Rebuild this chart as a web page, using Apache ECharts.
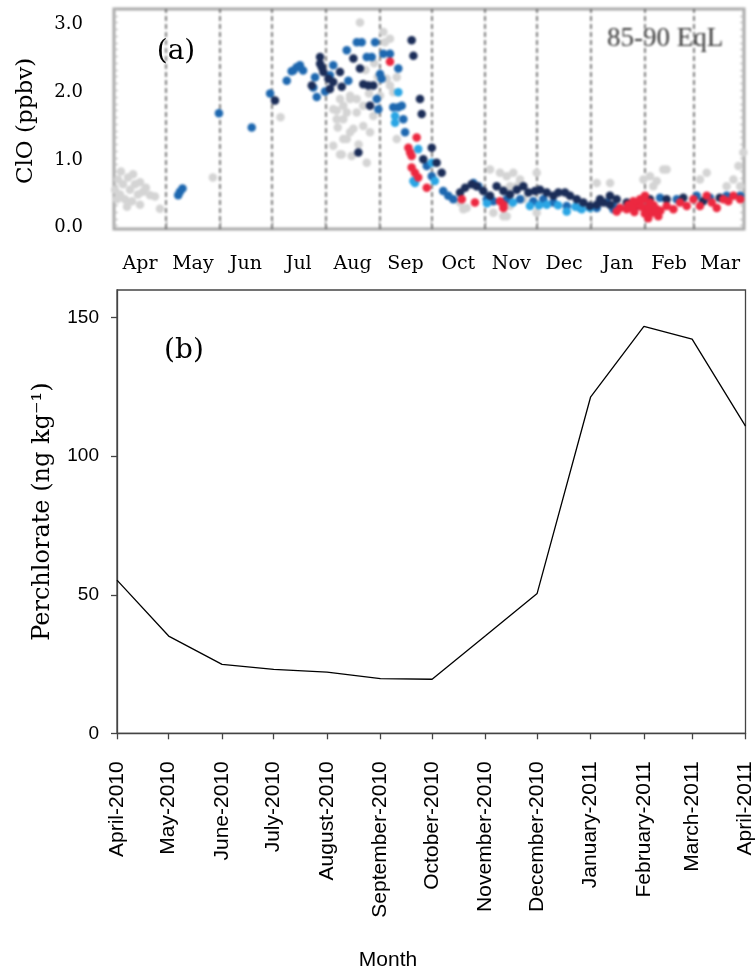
<!DOCTYPE html>
<html>
<head>
<meta charset="utf-8">
<script src="https://cdn.jsdelivr.net/npm/echarts@6/dist/echarts.min.js"></script>
<style>
  html, body { margin: 0; padding: 0; background: #fff; }
  #wrap { position: relative; width: 756px; height: 971px; overflow: hidden; }
  #clo { position: absolute; left: 0; top: 0; width: 756px; height: 245px; filter: blur(0.9px); }
  #main { position: absolute; left: 0; top: 0; width: 756px; height: 971px; }
</style>
</head>
<body>
<div id="wrap"><div id="clo"></div><div id="main"></div></div>
<script>
// ClO observations, 85-90 EqL, season starting 1 April 2010.
// Each point: [days since 1 April 2010, ClO in ppbv]
const cloGray = [
  [0.6,0.53],[2.3,0.68],[3.5,0.46],[5.2,0.61],[6.3,0.39],[8.1,0.71],[9.2,0.53],[10.4,0.36],
  [12.1,0.61],[13.8,0.46],[15,0.64],[16.7,0.5],[18.4,0.56],[20.8,0.45],[1.7,0.39],[4,0.8],
  [7.5,0.28],[11,0.76],[15,0.31],[23.6,0.43],[26.5,0.25],[57,0.71],[96,1.6],
  [141.8,3.0],[126.4,1.72],[128.4,1.57],[134.2,1.67],[136.1,1.38],[126.4,1.18],[132.2,1.28],
  [145.7,0.93],[131.3,1.05],[137,1.03],[128.4,1.7],[132.2,1.77],[136.1,1.87],[139.9,1.67],
  [143.7,1.47],[138,1.43],[147.6,1.38],[134.2,1.28],[139.9,1.87],[143.7,1.77],[149.5,1.62],
  [153.4,1.92],[155.3,2.86],[156.2,2.71],[159.1,2.76],[157.2,2.17],[159.1,2.07],[163,2.19],
  [161,1.97],[130.3,1.87],[132.2,1.57],[163,1.28],[145,2.3],[150,2.4],[152,2.2],[147,1.95],
  [141,1.2],[129,1.45],[136.1,1.92],[130.3,1.05],
  [199.5,0.34],[203.3,0.26],[201.4,0.24],[216.8,0.83],[222.5,0.78],[226.4,0.73],[230.2,0.78],
  [234.1,0.68],[228.3,0.58],[218.7,0.19],[226.4,0.14],[243.7,0.78],[278.3,0.63],[286,0.63],
  [305.2,0.68],[309,0.73],[310.9,0.58],[312.9,0.66],[316.7,0.83],[318.6,0.83],[337.8,0.68],
  [341.7,0.78],[353.2,0.58],[357.1,0.68],[360,0.88],[362.8,1.08],[361,0.58],[224.5,0.53],
  [232.2,0.58],[236,0.39],[228.3,0.29],[243.7,0.19],[224.5,0.14]
];
const cloBlue = [
  [37,0.45],[38,0.5],[39.5,0.55],[60.5,1.66],[79.4,1.45],[90,1.95],[99.6,2.14],[102.4,2.28],
  [103.4,2.29],[107.2,2.37],[109,2.29],[105.3,2.34],[115.9,2.19],[114.9,2.04],[116.9,1.9],
  [121.7,1.98],[124.5,2.22],[126.4,2.37],[134.2,2.59],[135.1,2.14],[140,2.71],[142.8,2.71],
  [145.7,2.49],[148.6,2.49],[150.5,2.71],[151.5,1.87],[152.4,1.72],[153.4,2.24],[154.3,2.17],
  [155.3,2.54],[159.1,2.54],[163.9,2.32],[161,1.75],[163.9,1.75],[165.9,1.77],[166.8,1.57],
  [167.8,1.38],[180.3,0.88],[183.2,0.73],[189.8,0.51],[192.7,0.44],[195.6,0.39],[207.2,0.63],
  [210,0.58],[214.9,0.39],[218.7,0.36],[226.4,0.39],[234.1,0.39],[241.7,0.36],[247.5,0.39],
  [253.3,0.34],[261,0.29],[268.7,0.26],[278.3,0.26],[287.9,0.24],[314.8,0.41],[324.4,0.39],
  [335.9,0.44],[343.6,0.41],[353.2,0.44],[361,0.44],[287.9,0.29],[284,0.34]
];
const cloNavy = [
  [92.8,1.85],[118.8,2.49],[114,2.07],[119.8,2.34],[123.6,2.17],[124.5,2.02],[126.4,2.12],
  [130.3,2.27],[131.3,2.05],[138,2.47],[141.8,2.32],[143.7,2.09],[146.6,2.07],[149.5,2.07],
  [147.6,1.77],[140.9,1.08],[118.8,2.39],[120.7,2.27],[171.6,2.74],[172.6,2.51],[176.4,1.87],
  [177.4,1.65],[183.2,1.15],[178.3,0.98],[186,0.93],[188.9,0.78],[199.5,0.49],[202.4,0.56],
  [206.2,0.61],[209.1,0.58],[212.9,0.51],[216.8,0.44],[220.6,0.58],[224.5,0.51],[228.3,0.46],
  [232.2,0.53],[236,0.58],[238.9,0.49],[242.7,0.51],[245.6,0.53],[249.5,0.49],[253.3,0.44],
  [256.2,0.49],[260,0.49],[262.9,0.44],[266.8,0.39],[270.6,0.34],[274.4,0.29],[278.3,0.31],
  [282.1,0.34],[286,0.31],[280.2,0.39],[285.9,0.44],[289.8,0.39],[295.6,0.34],[301.3,0.29],
  [309,0.39],[318.6,0.39],[328.2,0.41],[339.6,0.36],[349.2,0.41]
];
const cloCyan = [
  [163.9,1.97],[162,1.62],[162,1.52],[175.4,1.13],[173.5,0.63],[172.6,0.66],[183.2,0.93],
  [185,0.66],[215,0.33],[230,0.34],[239.8,0.29],[245,0.3],[249.5,0.31],[256,0.3],[261,0.21],
  [266,0.28],[269.6,0.24],[274.4,0.26]
];
const cloRed = [
  [159.1,2.42],[174.5,1.3],[169.7,1.15],[170.7,1.08],[171.6,1.03],[171.6,0.86],[173.5,0.78],
  [175.4,0.71],[180.3,0.56],[200.5,0.39],[208.1,0.34],[222.5,0.36],[224.5,0.26],[224.5,0.31],
  [289.8,0.21],[295.6,0.24],[301.3,0.31],[305.2,0.39],[307.1,0.26],[310,0.19],[312.9,0.24],
  [291.7,0.26],[296.5,0.31],[299.4,0.36],[303.3,0.39],[306.1,0.44],[309,0.34],[311.9,0.24],
  [313.8,0.14],[308,0.11],[318.6,0.29],[322.5,0.24],[326.3,0.34],[330.2,0.29],[334,0.39],
  [337.8,0.29],[341.7,0.44],[344.6,0.34],[347.5,0.26],[351.3,0.39],[354.2,0.36],[357.1,0.44],
  [361,0.39],[300,0.2],[304,0.28],[306,0.18],[308.5,0.28],[311,0.3],[315,0.22],[298,0.27]
];

// Monthly perchlorate (ng kg-1), April 2010 to April 2011
const perchlorateValues = [55.3, 35.1, 24.9, 23.1, 22.1, 19.7, 19.5, 35.2, 50.5, 121.3, 146.9, 142.3, 110.9];
const monthNames = ['January','February','March','April','May','June','July','August','September','October','November','December'];
const monthAbbr = ['Jan','Feb','Mar','Apr','May','Jun','Jul','Aug','Sep','Oct','Nov','Dec'];
const cloTicks = [0, 1, 2, 3];
const perchlorateTicks = [0, 50, 100, 150];

// Day offsets (since 1 April 2010) of each month start, April 2010 .. April 2011
const DAY = 86400000;
const seasonStart = new Date(2010, 3, 1).getTime();
const monthDates = Array.from({ length: 13 }, (_, i) => new Date(2010, 3 + i, 1));
const monthStarts = monthDates.map(d => Math.round((d.getTime() - seasonStart) / DAY));
const midMonths = monthStarts.slice(0, 12).map((t, i) => (t + monthStarts[i + 1]) / 2);
const panelEndDay = 363.2;
const frameTicks = Array.from({ length: 33 }, (_, i) => +(i * 0.1).toFixed(1));

const monthIndexOf = (list, v) => list.findIndex(x => Math.abs(x - v) < 0.01);

// ---- ClO panel (plot body) ----
const clo = echarts.init(document.getElementById('clo'), null, { renderer: 'canvas' });
const dotAxis = (pos) => ({
  type: 'value', min: -0.05, max: 3.2, position: pos,
  axisLine: { show: false }, splitLine: { show: false }, axisLabel: { show: false },
  axisTick: { show: true, inside: true, length: 4, customValues: frameTicks, lineStyle: { color: '#b5b5b5', width: 1 } }
});
const dots = (data, color, z) => ({
  type: 'scatter', data: data, symbolSize: 8.5, z: z,
  itemStyle: { color: color, opacity: 1 }, silent: true
});
clo.setOption({
  animation: false,
  grid: { left: 114, top: 9, width: 630, height: 220, show: true, borderColor: '#a9a9a9', borderWidth: 3, backgroundColor: '#fff' },
  xAxis: {
    type: 'value', min: 0, max: panelEndDay,
    axisLine: { show: false }, axisLabel: { show: false }, splitLine: { show: false },
    axisTick: { show: true, inside: true, length: 4, customValues: monthStarts.slice(1, 12), lineStyle: { color: '#888' } }
  },
  yAxis: [dotAxis('left'), dotAxis('right')],
  series: [
    Object.assign(dots(cloGray, '#d4d4d4', 2), {
      markLine: {
        silent: true, symbol: 'none', label: { show: false }, z: 1,
        lineStyle: { color: '#555', type: [5, 3], width: 1.5 },
        data: monthStarts.slice(1, 12).map(t => ({ xAxis: t }))
      }
    }),
    dots(cloBlue, '#1e68b0', 3),
    dots(cloCyan, '#2aa5e4', 4),
    dots(cloNavy, '#1b2d58', 5),
    dots(cloRed, '#ec2840', 6)
  ],
  graphic: [{
    type: 'text', x: 607, y: 39,
    style: { text: '85-90 EqL', fontFamily: 'Liberation Serif', fontSize: 27, fill: '#383838', textVerticalAlign: 'middle' }
  }]
});

// ---- Axis text for the ClO panel, and the perchlorate panel ----
const main = echarts.init(document.getElementById('main'), null, { renderer: 'canvas' });
const ink = '#444';
main.setOption({
  animation: false,
  backgroundColor: 'transparent',
  grid: [
    { left: 114, top: 11, width: 630, height: 220 },
    { left: 117, top: 290, width: 630.5, height: 443.3, show: true, borderColor: ink, borderWidth: 1.3, backgroundColor: 'transparent' }
  ],
  xAxis: [
    {
      gridIndex: 0, type: 'value', min: 0, max: panelEndDay,
      axisLine: { show: false }, axisTick: { show: false }, splitLine: { show: false },
      axisLabel: {
        customValues: midMonths, hideOverlap: false,
        formatter: v => monthAbbr[monthDates[monthIndexOf(midMonths, v)].getMonth()],
        fontFamily: 'DejaVu Serif', fontSize: 19, color: '#000', margin: 24
      }
    },
    {
      gridIndex: 1, type: 'value', min: monthStarts[0], max: monthStarts[12],
      axisLine: { show: true, lineStyle: { color: ink, width: 1.3 } },
      axisTick: { show: true, customValues: monthStarts, length: 6, lineStyle: { color: ink, width: 1.3 } },
      splitLine: { show: false },
      axisLabel: {
        customValues: monthStarts, rotate: 90, hideOverlap: false,
        formatter: v => { const d = monthDates[monthIndexOf(monthStarts, v)]; return monthNames[d.getMonth()] + '-' + d.getFullYear(); },
        fontFamily: "'Liberation Sans', Arial", fontSize: 21, color: '#000', margin: 28
      }
    }
  ],
  yAxis: [
    {
      gridIndex: 0, type: 'value', min: -0.05, max: 3.2,
      axisLine: { show: false }, axisTick: { show: false }, splitLine: { show: false },
      axisLabel: {
        customValues: cloTicks, formatter: v => v.toFixed(1),
        fontFamily: 'DejaVu Serif', fontSize: 18, color: '#000', margin: 31
      },
      name: 'ClO (ppbv)', nameLocation: 'middle', nameRotate: 90, nameGap: 76,
      nameTextStyle: { fontFamily: 'DejaVu Serif', fontSize: 23, color: '#000' }
    },
    {
      gridIndex: 1, type: 'value', min: 0, max: 160,
      axisLine: { show: true, lineStyle: { color: ink, width: 1.3 } },
      axisTick: { show: true, customValues: perchlorateTicks, length: 6, lineStyle: { color: ink, width: 1.3 } },
      splitLine: { show: false },
      axisLabel: {
        customValues: perchlorateTicks,
        fontFamily: "'Liberation Sans', Arial", fontSize: 19, color: '#000', margin: 18
      },
      name: 'Perchlorate (ng kg\u207B\u00B9)', nameLocation: 'middle', nameRotate: 90, nameGap: 62,
      nameTextStyle: { fontFamily: 'DejaVu Serif', fontSize: 24, color: '#000' }
    }
  ],
  series: [{
    type: 'line', xAxisIndex: 1, yAxisIndex: 1,
    data: monthStarts.map((t, i) => [t, perchlorateValues[i]]),
    symbol: 'none', lineStyle: { color: '#000', width: 1.3 }, silent: true
  }],
  graphic: [
    { type: 'text', x: 176, y: 52, style: { text: '(a)', fontFamily: 'DejaVu Serif', fontSize: 28, fill: '#000', textAlign: 'center', textVerticalAlign: 'middle' } },
    { type: 'text', x: 184, y: 351, style: { text: '(b)', fontFamily: 'DejaVu Serif', fontSize: 28, fill: '#000', textAlign: 'center', textVerticalAlign: 'middle' } },
    { type: 'text', x: 388, y: 960, style: { text: 'Month', fontFamily: "'Liberation Sans', Arial", fontSize: 21, fill: '#000', textAlign: 'center', textVerticalAlign: 'middle' } }
  ]
});
</script>
</body>
</html>
